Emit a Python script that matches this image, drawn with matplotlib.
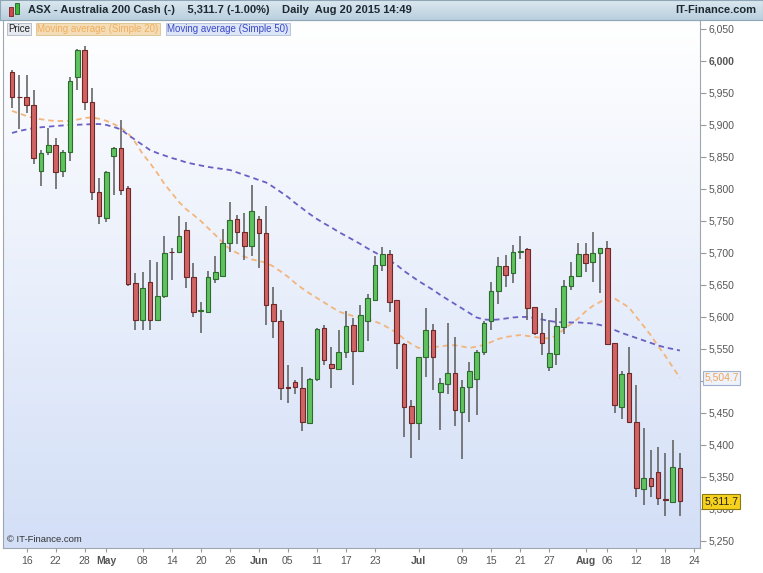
import numpy as np
import pandas as pd
import matplotlib
matplotlib.use("Agg")
import matplotlib.pyplot as plt
from matplotlib.colors import LinearSegmentedColormap

plt.rcParams['font.family'] = ['Liberation Sans', 'DejaVu Sans']

# daily candles, ASX 200 cash, 14 Apr - 20 Aug 2015
dates = pd.bdate_range('2015-04-14', '2015-08-20')

opens = [5983, 5944, 5943, 5931, 5828, 5857, 5869, 5828, 5858, 5975,
         6017, 5936, 5796, 5754, 5851, 5864, 5801, 5653, 5595, 5655,
         5595, 5632, 5702, 5702, 5736, 5662, 5609, 5607, 5659, 5664,
         5715, 5753, 5733, 5711, 5753, 5731, 5620, 5593, 5490, 5499,
         5489, 5435, 5503, 5582, 5527, 5518, 5545, 5588, 5547, 5593,
         5627, 5681, 5698, 5626, 5558, 5461, 5434, 5538, 5579, 5482,
         5496, 5513, 5452, 5491, 5503, 5546, 5594, 5640, 5680, 5668,
         5702, 5706, 5615, 5575, 5522, 5542, 5585, 5648, 5664, 5698,
         5686, 5700, 5707, 5559, 5460, 5512, 5436, 5331, 5348, 5357,
         5315, 5311, 5364]
highs = [5986, 5978, 5978, 5954, 5861, 5896, 5879, 5861, 5975, 6018,
         6023, 5957, 5817, 5828, 5866, 5908, 5804, 5668, 5671, 5689,
         5686, 5726, 5708, 5757, 5749, 5684, 5624, 5672, 5695, 5737,
         5779, 5759, 5762, 5806, 5758, 5773, 5647, 5611, 5525, 5501,
         5522, 5504, 5582, 5588, 5553, 5579, 5610, 5598, 5619, 5636,
         5695, 5709, 5704, 5627, 5559, 5470, 5538, 5614, 5589, 5504,
         5590, 5569, 5502, 5530, 5548, 5593, 5654, 5694, 5697, 5713,
         5726, 5707, 5616, 5606, 5595, 5614, 5658, 5686, 5715, 5715,
         5733, 5708, 5718, 5560, 5516, 5553, 5494, 5426, 5392, 5397,
         5387, 5408, 5388]
lows = [5927, 5894, 5919, 5839, 5805, 5853, 5800, 5819, 5843, 5955,
        5923, 5782, 5746, 5749, 5791, 5791, 5648, 5580, 5580, 5580,
        5594, 5630, 5658, 5700, 5645, 5600, 5575, 5606, 5653, 5663,
        5702, 5714, 5689, 5695, 5676, 5588, 5567, 5470, 5465, 5480,
        5422, 5433, 5500, 5525, 5489, 5517, 5536, 5493, 5546, 5563,
        5626, 5672, 5608, 5518, 5413, 5379, 5407, 5506, 5486, 5423,
        5480, 5429, 5378, 5436, 5447, 5541, 5580, 5621, 5647, 5653,
        5690, 5595, 5572, 5541, 5515, 5525, 5573, 5642, 5663, 5671,
        5655, 5638, 5556, 5450, 5440, 5435, 5319, 5306, 5319, 5306,
        5289, 5310, 5289]
closes = [5944, 5943, 5931, 5848, 5856, 5869, 5827, 5858, 5968, 6017,
          5936, 5796, 5757, 5827, 5864, 5798, 5652, 5595, 5645, 5595,
          5632, 5700, 5701, 5727, 5663, 5607, 5610, 5662, 5671, 5716,
          5752, 5733, 5711, 5766, 5731, 5619, 5594, 5489, 5489, 5490,
          5436, 5503, 5581, 5533, 5520, 5546, 5586, 5547, 5603, 5629,
          5681, 5698, 5624, 5560, 5460, 5435, 5537, 5580, 5538, 5497,
          5513, 5454, 5491, 5515, 5546, 5591, 5640, 5680, 5666, 5702,
          5703, 5614, 5575, 5560, 5543, 5586, 5648, 5664, 5698, 5685,
          5700, 5707, 5557, 5463, 5511, 5436, 5332, 5349, 5336, 5317,
          5314, 5365, 5311.7]

# moving averages
ma20 = [5921.9, 5918, 5914, 5910.9, 5908.9, 5907.3, 5906.2, 5906.2, 5906.2, 5908.4,
        5910.9, 5911.9, 5909.7, 5906.5, 5901.5, 5895.6, 5886.9, 5872.6, 5854.7, 5840.6,
        5825, 5807.8, 5793.7, 5779.7, 5768.3, 5759.4, 5750, 5739, 5728.1, 5716.4,
        5706.2, 5700, 5694.4, 5690, 5687.5, 5684.7, 5678.9, 5671.1, 5662.8, 5653.1,
        5644.5, 5636.7, 5629.7, 5622.6, 5615.6, 5608.6, 5604.7, 5601.5, 5598.7, 5596.1,
        5593, 5588.3, 5582, 5575, 5565.6, 5557.8, 5551.5, 5552.3, 5553.1, 5553.9,
        5555.5, 5555.9, 5553.9, 5551.5, 5553.9, 5556.2, 5560.9, 5565.6, 5568.7, 5570.3,
        5571.9, 5570.3, 5568.7, 5567.2, 5566.4, 5571.1, 5580.5, 5589, 5597.6, 5608.6,
        5617.2, 5623.4, 5629.7, 5628.9, 5621.9, 5614.8, 5600, 5585.9, 5571.1, 5554.7,
        5539, 5521.9, 5504.7]
ma50 = [5887.5, 5890.6, 5893, 5895.3, 5896.4, 5897.3, 5898.4, 5899.2, 5900, 5900.3,
        5900.8, 5901.2, 5901.5, 5900, 5896.9, 5893, 5884.4, 5876.5, 5868.7, 5860.9,
        5856.2, 5852.3, 5848.4, 5845.3, 5841.4, 5839, 5836.7, 5834.4, 5832.8, 5831.2,
        5829.7, 5825.8, 5821.9, 5818, 5814, 5810.1, 5803.1, 5795.3, 5787.5, 5778.1,
        5769.5, 5760.9, 5753.1, 5746.1, 5739.8, 5732.8, 5726.5, 5720.3, 5714, 5707,
        5700.8, 5694.5, 5688.3, 5681.2, 5671.9, 5664, 5656.2, 5649.2, 5642.2, 5634.4,
        5627.3, 5620.3, 5613.3, 5606.2, 5599.2, 5596.1, 5595.3, 5596.1, 5597.6, 5599.2,
        5600, 5600, 5598.4, 5596.1, 5593.7, 5592.2, 5591.4, 5591.4, 5591.4, 5590.6,
        5589.8, 5587.5, 5584.4, 5579.7, 5575, 5571.1, 5567.2, 5563.3, 5559.4, 5555.5,
        5552.3, 5550, 5547.6]

tick_dates = ['2015-04-16', '2015-04-22', '2015-04-28', '2015-05-01', '2015-05-08',
              '2015-05-14', '2015-05-20', '2015-05-26', '2015-06-01', '2015-06-05',
              '2015-06-11', '2015-06-17', '2015-06-23', '2015-07-01', '2015-07-09',
              '2015-07-15', '2015-07-21', '2015-07-27', '2015-08-03', '2015-08-06',
              '2015-08-12', '2015-08-18', '2015-08-24']
tick_labels = ['16', '22', '28', 'May', '08', '14', '20', '26', 'Jun', '05', '11',
               '17', '23', 'Jul', '09', '15', '21', '27', 'Aug', '06', '12', '18', '24']
months = {'May', 'Jun', 'Jul', 'Aug'}

o = np.array(opens, float)
h = np.array(highs, float)
l = np.array(lows, float)
c = np.array(closes, float)
idx = np.arange(len(dates))

W, H = 763, 573
fig = plt.figure(figsize=(W / 100, H / 100), dpi=100)
fig.patch.set_facecolor('white')

ax = fig.add_axes([3 / W, 25 / H, 697 / W, 528 / H])
x0, x1 = -1.24, 94.77
y0, y1 = 5239, 6064
ax.set_xlim(x0, x1)
ax.set_ylim(y0, y1)

# background gradient
bg = LinearSegmentedColormap.from_list('bg', ['#ffffff', '#d3dff7'])
ax.imshow(np.linspace(0, 1, 256).reshape(-1, 1), extent=[x0, x1, y0, y1],
          aspect='auto', cmap=bg, origin='upper', zorder=0)

# moving averages
ax.plot(idx, ma20, color='#f3b57c', ls=(0, (3, 2.2)), lw=1.3, zorder=1)
ax.plot(idx, ma50, color='#6b5fc4', ls=(0, (3, 2.2)), lw=1.3, zorder=1)

# candles
up = c >= o
ax.vlines(idx, l, h, color='#5a5a5a', lw=1.1, zorder=2)
body_lo = np.minimum(o, c)
body_h = np.maximum(np.abs(c - o), 1.2)
ax.bar(idx, body_h, bottom=body_lo, width=0.64,
       color=np.where(up, '#5ec35e', '#d06464'),
       edgecolor=np.where(up, '#2f6b2f', '#6e2828'), lw=0.8, zorder=3)

# right price axis (5,500 sits under the MA label box)
ax.yaxis.tick_right()
yt = np.arange(5250, 6051, 50)
ax.set_yticks(yt)
ax.set_yticklabels(['' if v == 5500 else f'{v:,}' for v in yt])
for lab, v in zip(ax.get_yticklabels(), yt):
    if v == 6000:
        lab.set_fontweight('bold')
        lab.set_color('#222222')
ax.tick_params(axis='y', right=True, left=False, length=4, pad=2,
               labelsize=7.5, colors='#9a9a9a', labelcolor='#555555')

# bottom date axis
pos = [dates.get_loc(pd.Timestamp(d)) if pd.Timestamp(d) in dates
       else len(dates) + len(pd.bdate_range(dates[-1], d)) - 2 for d in tick_dates]
ax.set_xticks(pos)
ax.set_xticklabels(tick_labels)
for lab in ax.get_xticklabels():
    if lab.get_text() in months:
        lab.set_fontweight('bold')
        lab.set_fontsize(8.5)
        lab.set_color('#333333')
ax.tick_params(axis='x', length=3, pad=3, labelsize=7.5, colors='#9a9a9a',
               labelcolor='#555555')

for s in ax.spines.values():
    s.set_color('#a0a6b0')
    s.set_linewidth(0.8)

# last value labels
ax.text(1.006, ma20[-1], f'{ma20[-1]:,.1f}', transform=ax.get_yaxis_transform(),
        va='center', ha='left', fontsize=7.5, color='#eda55c',
        bbox=dict(boxstyle='square,pad=0.15', fc='#eef2fa', ec='#9fb0cf', lw=0.8))
ax.text(1.006, closes[-1], f'{closes[-1]:,.1f}', transform=ax.get_yaxis_transform(),
        va='center', ha='left', fontsize=7.5, color='#222222',
        bbox=dict(boxstyle='square,pad=0.2', fc='#f7d21c', ec='#8c7a10', lw=0.8))

ax.text(0.006, 0.008, '\u00a9 IT-Finance.com', transform=ax.transAxes,
        fontsize=6.8, color='#333333', va='bottom', ha='left')

# header bar
hax = fig.add_axes([0, 1 - 20 / H, 1, 20 / H])
hdr = LinearSegmentedColormap.from_list('hdr', ['#dce8f0', '#b9cfdd'])
hax.imshow(np.linspace(0, 1, 64).reshape(-1, 1), extent=[0, 1, 0, 1],
           aspect='auto', cmap=hdr, origin='upper')
hax.set_xlim(0, 1)
hax.set_ylim(0, 1)
hax.set_xticks([])
hax.set_yticks([])
for s in hax.spines.values():
    s.set_color('#8fa6b6')
hax.text(28 / W, 0.5, 'ASX - Australia 200 Cash (-)    5,311.7 (-1.00%)    Daily  Aug 20 2015 14:49',
         va='center', ha='left', fontsize=8, fontweight='bold', color='#1e2a33')
hax.text(756 / W, 0.5, 'IT-Finance.com', va='center', ha='right',
         fontsize=8, fontweight='bold', color='#1e2a33')
# small candle icon
hax.add_patch(plt.Rectangle((9 / W, 0.2), 4 / W, 0.45, fc='#d04848', ec='#7a2020', lw=0.6))
hax.add_patch(plt.Rectangle((15 / W, 0.3), 4 / W, 0.55, fc='#3cb83c', ec='#206020', lw=0.6))

# legend row
ly = 1 - 29 / H
fig.text(8 / W, ly, 'Price', fontsize=7, color='#222222', va='center',
         bbox=dict(boxstyle='square,pad=0.15', fc='#e6eaf0', ec='#b0b8c4', lw=0.6))
fig.text(37 / W, ly, 'Moving average (Simple 20)', fontsize=7, color='#f0b060', va='center',
         bbox=dict(boxstyle='square,pad=0.15', fc='#f3dcb6', ec='#d8c090', lw=0.6))
fig.text(167 / W, ly, 'Moving average (Simple 50)', fontsize=7, color='#3a48c8', va='center',
         bbox=dict(boxstyle='square,pad=0.15', fc='#dde6f6', ec='#b0bcd8', lw=0.6))

fig.savefig('out.png', dpi=100)
